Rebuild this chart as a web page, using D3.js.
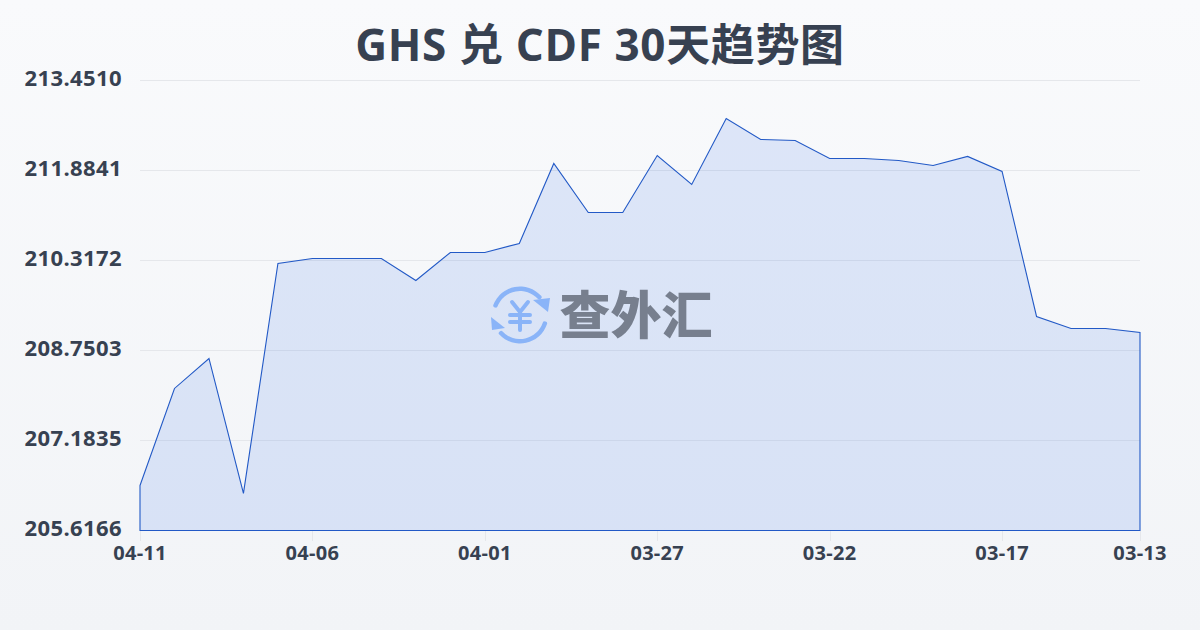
<!DOCTYPE html>
<html><head><meta charset="utf-8">
<script src="https://cdn.jsdelivr.net/npm/d3@7"></script>
<style>html,body{margin:0;padding:0;background:#f5f7fa}svg{display:block}</style>
</head><body><svg id="c" width="1200" height="630"></svg>
<script>
const titleText = "GHS 兑 CDF 30天趋势图";
const dates = ["04-11","04-10","04-09","04-08","04-07","04-06","04-05","04-04","04-03","04-02","04-01","03-31","03-30","03-29","03-28","03-27","03-26","03-25","03-24","03-23","03-22","03-21","03-20","03-19","03-18","03-17","03-16","03-15","03-14","03-13"];
const rates = [206.392,208.081,208.603,206.253,210.257,210.344,210.344,210.344,209.961,210.448,210.448,210.605,211.998,211.145,211.145,212.137,211.632,212.781,212.416,212.398,212.085,212.085,212.050,211.963,212.120,211.859,209.334,209.125,209.125,209.055];
const yTicks = [205.6166,207.1835,208.7503,210.3172,211.8841,213.4510];
const xTicks = ["04-11","04-06","04-01","03-27","03-22","03-17","03-13"];
const watermark = "查外汇";

const font = "'Open Sans','Noto Sans CJK SC',sans-serif";
const svg = d3.select("#c");
const defs = svg.append("defs");
const bg = defs.append("linearGradient").attr("id","bg").attr("x1",0).attr("y1",0).attr("x2",0).attr("y2",1);
bg.append("stop").attr("offset",0).attr("stop-color","#f9fafc");
bg.append("stop").attr("offset",1).attr("stop-color","#f2f4f7");
svg.append("rect").attr("width",1200).attr("height",630).attr("fill","url(#bg)");

const x = d3.scalePoint().domain(dates).range([140,1140]);
const y = d3.scaleLinear().domain([205.6166,213.4510]).range([530,80]);

svg.append("text").attr("x",600).attr("y",61).attr("text-anchor","middle").attr("letter-spacing",0.65)
  .attr("font-family",font).attr("font-weight",700).attr("font-size",44).attr("fill","#374151").text(titleText);

const grid = svg.append("g");
grid.selectAll("line").data(yTicks).join("line")
  .attr("x1",140).attr("x2",1140).attr("y1",d=>Math.round(y(d))+.5).attr("y2",d=>Math.round(y(d))+.5)
  .attr("stroke","#e5e7eb").attr("stroke-width",1);

const series = dates.map((d,i)=>[d,rates[i]]);
const area = d3.area().x(d=>x(d[0])).y0(y.range()[0]+.5).y1(d=>y(d[1]));
svg.append("path").datum(series).attr("d",area).attr("fill","#2563eb").attr("fill-opacity",.13);
svg.append("path").datum(series).attr("d",area).attr("fill","none").attr("stroke","#2259c6").attr("stroke-width",1.1);

const axisX = svg.append("g");
axisX.selectAll("line").data(xTicks).join("line")
  .attr("x1",d=>Math.round(x(d))+.5).attr("x2",d=>Math.round(x(d))+.5).attr("y1",531).attr("y2",541).attr("stroke","#e5e7eb");
axisX.selectAll("text").data(xTicks).join("text")
  .attr("x",d=>x(d)).attr("y",560).attr("text-anchor","middle").attr("letter-spacing",0.3)
  .attr("font-family",font).attr("font-weight",700).attr("font-size",20).attr("fill","#374151").text(d=>d);

svg.append("g").selectAll("text").data(yTicks).join("text")
  .attr("x",122).attr("y",d=>y(d)+6).attr("text-anchor","end").attr("letter-spacing",0.4)
  .attr("font-family",font).attr("font-weight",700).attr("font-size",22).attr("fill","#374151").text(d=>d.toFixed(4));

// watermark
const wm = svg.append("g").attr("transform","translate(520,315)");
const blue = "#8ab4f8";
const arc = d3.arc().innerRadius(24).outerRadius(28.5).cornerRadius(2);
wm.append("path").attr("d",arc({startAngle:-1.28,endAngle:0.91})).attr("fill",blue);
wm.append("path").attr("d",arc({startAngle:1.82,endAngle:4.03})).attr("fill",blue);
wm.append("path").attr("d","M13,-15 L30,-17 L28,-3 Z").attr("fill",blue);
wm.append("path").attr("d","M-29,2 L-15,13 L-28,15 Z").attr("fill",blue);
wm.append("path").attr("d","M-8,-13 L0,-3 L8,-13 M-10,0 H10 M-10,7 H10 M0,-3 V15")
  .attr("fill","none").attr("stroke",blue).attr("stroke-width",4).attr("stroke-linecap","round").attr("stroke-linejoin","round");
svg.append("text").attr("x",636).attr("y",334).attr("text-anchor","middle")
  .attr("font-family","'Noto Sans CJK SC',sans-serif").attr("font-weight",900).attr("font-size",51).attr("fill","#777f8e").text(watermark);
</script></body></html>
